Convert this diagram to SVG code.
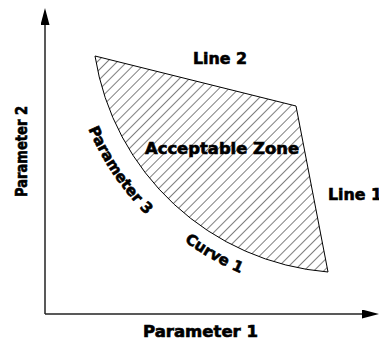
<svg xmlns="http://www.w3.org/2000/svg" width="379" height="343" viewBox="0 0 379 343">
<style>
.lbl{font-family:"DejaVu Sans","Liberation Sans",sans-serif;font-weight:bold;font-size:15px;fill:#000;stroke:#000;stroke-width:0.6}
.axis{stroke:#222;stroke-width:1.5;fill:none}
</style>
<defs>
<pattern id="hatch" patternUnits="userSpaceOnUse" width="7" height="20" patternTransform="rotate(45)">
<line x1="0" y1="0" x2="0" y2="20" stroke="#000" stroke-width="1"/>
</pattern>
<marker id="arr" viewBox="0 0 17 9" refX="0" refY="4.5" markerWidth="17" markerHeight="9" markerUnits="userSpaceOnUse" orient="auto">
<path d="M0,0 L17,4.5 L0,9 Z" fill="#000"/>
</marker>
<path id="p3" d="M82.1,113.1 A284,284 0 0,0 186.1,248.7"/>
<path id="c1" d="M151.7,213.3 A279,279 0 0,0 300.6,290.8"/>
</defs>
<g id="connectors">
<line class="axis" x1="45" y1="314" x2="45" y2="25" marker-end="url(#arr)"/>
<line class="axis" x1="45" y1="314" x2="362" y2="314" marker-end="url(#arr)"/>
</g>
<g id="zone">
<path d="M95,56 L296,106 L328,272 A257,257 0 0,1 95,56 Z" fill="url(#hatch)" stroke="#000" stroke-width="1"/>
</g>
<g id="labels">
<text class="lbl" x="193" y="64" textLength="54" lengthAdjust="spacingAndGlyphs">Line 2</text>
<text class="lbl" x="145" y="154" textLength="154" lengthAdjust="spacingAndGlyphs">Acceptable Zone</text>
<text class="lbl" x="328" y="200" textLength="54" lengthAdjust="spacingAndGlyphs">Line 1</text>
<text class="lbl" x="143" y="337" textLength="115" lengthAdjust="spacingAndGlyphs">Parameter 1</text>
<text class="lbl" transform="translate(27,197) rotate(-90)" textLength="91" lengthAdjust="spacingAndGlyphs">Parameter 2</text>
<text class="lbl"><textPath href="#p3" startOffset="17">Parameter 3</textPath></text>
<text class="lbl"><textPath href="#c1" startOffset="43">Curve 1</textPath></text>
</g>
</svg>
